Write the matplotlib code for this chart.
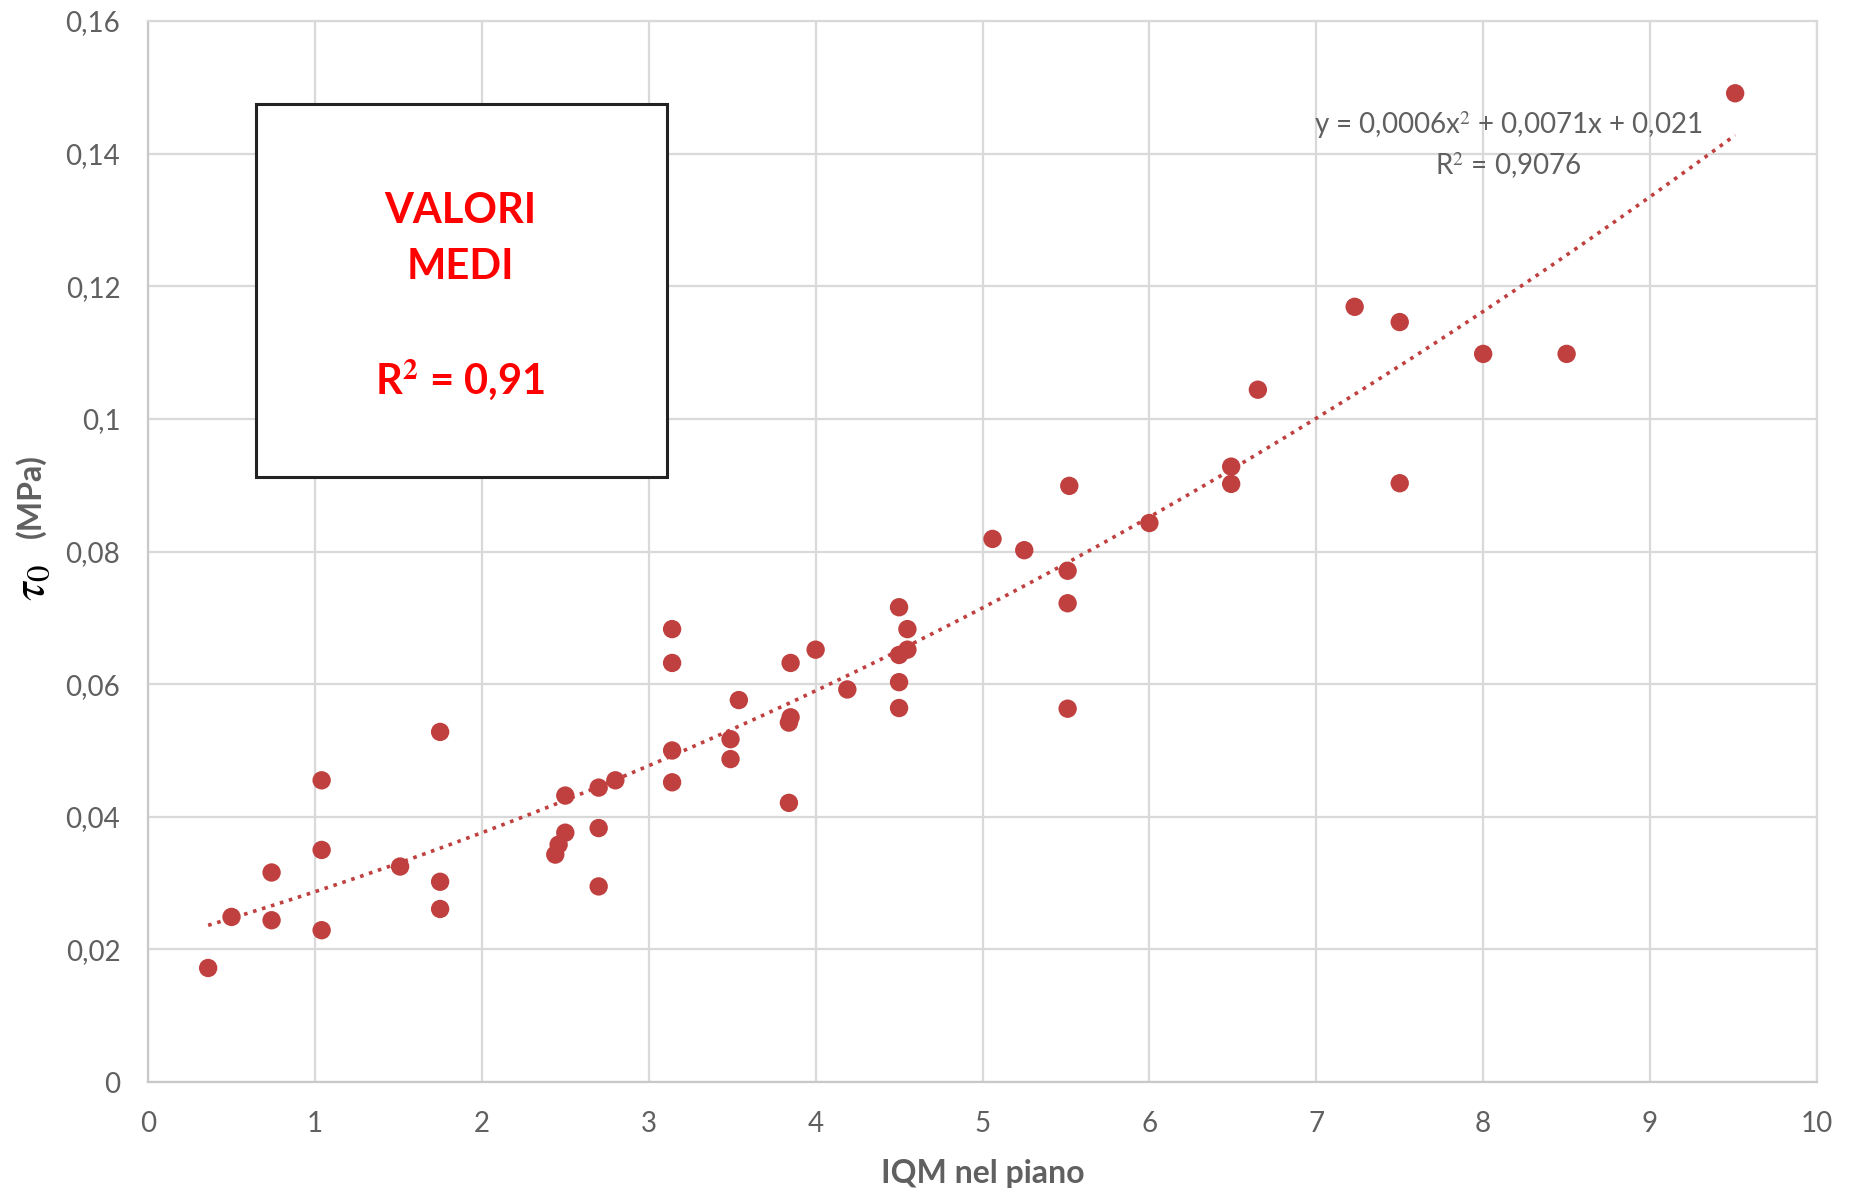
import numpy as np
import matplotlib
matplotlib.use("Agg")
import matplotlib.pyplot as plt
from matplotlib.ticker import FixedLocator, FuncFormatter

# Average values: in-plane IQM vs. tau_0 (MPa)
iqm = [0.36, 0.50, 0.74, 0.74, 1.04, 1.04, 1.04, 1.51, 1.75, 1.75, 1.75,
       2.44, 2.46, 2.50, 2.50, 2.70, 2.70, 2.70, 2.80,
       3.14, 3.14, 3.14, 3.14, 3.49, 3.49, 3.54, 3.85, 3.84, 3.85, 3.84,
       4.00, 4.19, 4.50, 4.55, 4.50, 4.55, 4.50, 4.50,
       5.06, 5.25, 5.52, 5.51, 5.51, 5.51, 6.00, 6.49, 6.49, 6.65,
       7.23, 7.50, 7.50, 8.00, 8.50, 9.51]
tau0 = [0.0172, 0.0249, 0.0316, 0.0244, 0.0455, 0.0350, 0.0229, 0.0325, 0.0528, 0.0302, 0.0261,
        0.0343, 0.0358, 0.0376, 0.0432, 0.0444, 0.0383, 0.0295, 0.0455,
        0.0683, 0.0632, 0.0500, 0.0452, 0.0517, 0.0487, 0.0576, 0.0632, 0.0542, 0.0550, 0.0421,
        0.0652, 0.0592, 0.0716, 0.0683, 0.0644, 0.0652, 0.0603, 0.0564,
        0.0819, 0.0802, 0.0899, 0.0771, 0.0722, 0.0563, 0.0843, 0.0928, 0.0902, 0.1044,
        0.1169, 0.1146, 0.0903, 0.1098, 0.1098, 0.1491]

# Polynomial trend line coefficients (a x^2 + b x + c)
trend_coef = [0.0006, 0.0071, 0.021]
trend_eq = "y = 0,0006x$^2$ + 0,0071x + 0,021"
trend_r2 = "R$^2$ = 0,9076"

x_ticks = [0, 1, 2, 3, 4, 5, 6, 7, 8, 9, 10]
y_ticks = [0, 0.02, 0.04, 0.06, 0.08, 0.10, 0.12, 0.14, 0.16]

plt.rcParams["font.family"] = ["Lato", "DejaVu Sans"]
plt.rcParams["mathtext.fontset"] = "stix"

point_color = "#c0403f"
grid_color = "#d9d9d9"
text_gray = "#606060"

fig = plt.figure(figsize=(18.51, 11.93), dpi=100)
ax = fig.add_axes([0.080, 0.093, 0.9016, 0.8894])

ax.set_xlim(0, 10)
ax.set_ylim(0, 0.16)
ax.xaxis.set_major_locator(FixedLocator(x_ticks))
ax.yaxis.set_major_locator(FixedLocator(y_ticks))
ax.xaxis.set_major_formatter(FuncFormatter(lambda v, p: f"{v:g}".replace(".", ",")))
ax.yaxis.set_major_formatter(FuncFormatter(lambda v, p: f"{v:g}".replace(".", ",")))
ax.tick_params(axis="both", length=0, labelsize=20, labelcolor=text_gray)
ax.tick_params(axis="y", pad=20)
ax.tick_params(axis="x", pad=21)
ax.grid(True, color=grid_color, linewidth=1.6)
ax.set_axisbelow(True)
for side, sp in ax.spines.items():
    sp.set_color("#c8c8c8" if side in ("left", "bottom") else grid_color)
    sp.set_linewidth(1.6)

# trend line
xt = np.linspace(min(iqm), max(iqm), 300)
yt = np.polyval(trend_coef, xt)
ax.plot(xt, yt, linestyle=(0, (1, 1.6)), color=point_color, linewidth=2.6, zorder=2)

# data points
ax.scatter(iqm, tau0, s=175, color=point_color, edgecolors="none", zorder=3)

ax.text(0.815, 0.902, trend_eq, transform=ax.transAxes, ha="center", va="center",
        fontsize=20, color=text_gray)
ax.text(0.815, 0.864, trend_r2, transform=ax.transAxes, ha="center", va="center",
        fontsize=20, color=text_gray)

# annotation box
box = plt.Rectangle((0.0647, 0.570), 0.2463, 0.3518, transform=ax.transAxes,
                    fill=True, facecolor="white", edgecolor="#222222", linewidth=2.2, zorder=4)
ax.add_patch(box)
for label, ypos in [("VALORI", 0.8207), ("MEDI", 0.768), ("R$^\\mathbf{2}$ = 0,91", 0.6626)]:
    ax.text(0.187, ypos, label, transform=ax.transAxes, ha="center", va="center",
            fontsize=30, fontweight="bold", color="#ff0000", zorder=5)

ax.set_xlabel("IQM nel piano", fontsize=23, fontweight="bold", color=text_gray, labelpad=16)

fig.text(0.0165, 0.584, "(MPa)", rotation=90, ha="center", va="center",
         fontsize=23, fontweight="bold", color=text_gray)
fig.text(0.0165, 0.512, r"$\tau_{\mathit{0}}$", rotation=90, ha="center", va="center",
         fontsize=34, color="black")

fig.savefig("out.png", dpi=100, facecolor="white")
